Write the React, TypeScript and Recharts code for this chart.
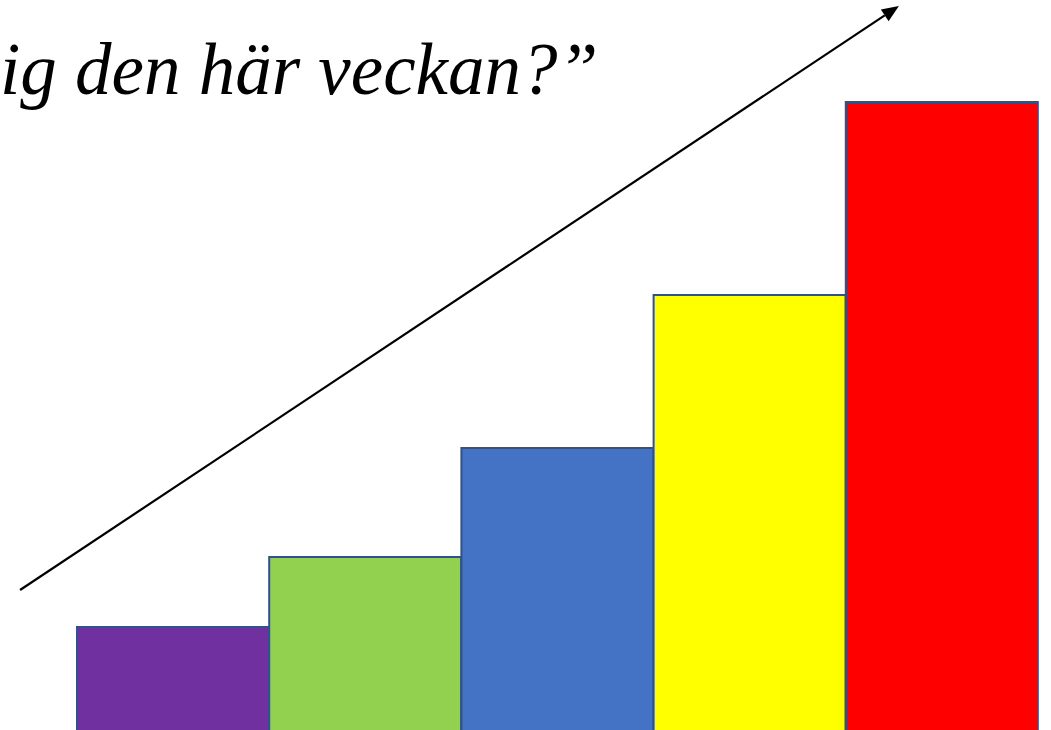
import { BarChart, Bar, XAxis, YAxis, Cell, ReferenceLine } from 'recharts';

const steps = ['1', '2', '3', '4', '5'];
const levels = [107, 177, 286, 439, 632];
const stepColors = ['#7030a0', '#92d050', '#4472c4', '#ffff00', '#ff0000'];

// arrow endpoints: x on a 0..4 axis spanning the bar area, y in chart units
const arrowX = [-0.237, 3.421];
const arrowY = [144, 728];

const titleText = 'ig den här veckan?”';

const data = steps.map((s, i) => ({ step: s, level: levels[i] }));

function ArrowShape(props: any) {
  const { x1, y1, x2, y2 } = props;
  const ang = Math.atan2(y2 - y1, x2 - x1);
  const len = 17;
  const half = 7;
  const bx = x2 - len * Math.cos(ang);
  const by = y2 - len * Math.sin(ang);
  const px = -Math.sin(ang) * half;
  const py = Math.cos(ang) * half;
  return (
    <g>
      <line x1={x1} y1={y1} x2={bx} y2={by} stroke="#000" strokeWidth={2.2} />
      <polygon points={`${x2},${y2} ${bx + px},${by + py} ${bx - px},${by - py}`} fill="#000" />
    </g>
  );
}

export default function App() {
  return (
    <div style={{ position: 'absolute', left: 0, top: 0, width: 1051, height: 730, overflow: 'hidden', background: '#fff' }}>
      <div
        style={{
          position: 'absolute',
          left: 0,
          top: 33,
          fontFamily: '"Liberation Serif", "Times New Roman", serif',
          fontStyle: 'italic',
          fontSize: 73,
          lineHeight: 1,
          color: '#000',
          whiteSpace: 'nowrap',
        }}
      >
        {titleText}
      </div>
      <div style={{ position: 'absolute', left: 0, top: 0 }}>
        <BarChart width={1051} height={734} data={data} margin={{ top: 0, right: 13, bottom: 0, left: 77 }} barCategoryGap={0}>
          <XAxis dataKey="step" hide />
          <XAxis xAxisId="arrow" type="number" domain={[0, 4]} allowDataOverflow hide />
          <YAxis domain={[0, 734]} allowDataOverflow hide />
          <Bar dataKey="level" stroke="#2f528f" strokeWidth={2} isAnimationActive={false}>
            {data.map((d, i) => (
              <Cell key={d.step} fill={stepColors[i]} />
            ))}
          </Bar>
          <ReferenceLine
            xAxisId="arrow"
            ifOverflow="visible"
            segment={[
              { x: arrowX[0], y: arrowY[0] },
              { x: arrowX[1], y: arrowY[1] },
            ]}
            shape={ArrowShape}
          />
        </BarChart>
      </div>
    </div>
  );
}
